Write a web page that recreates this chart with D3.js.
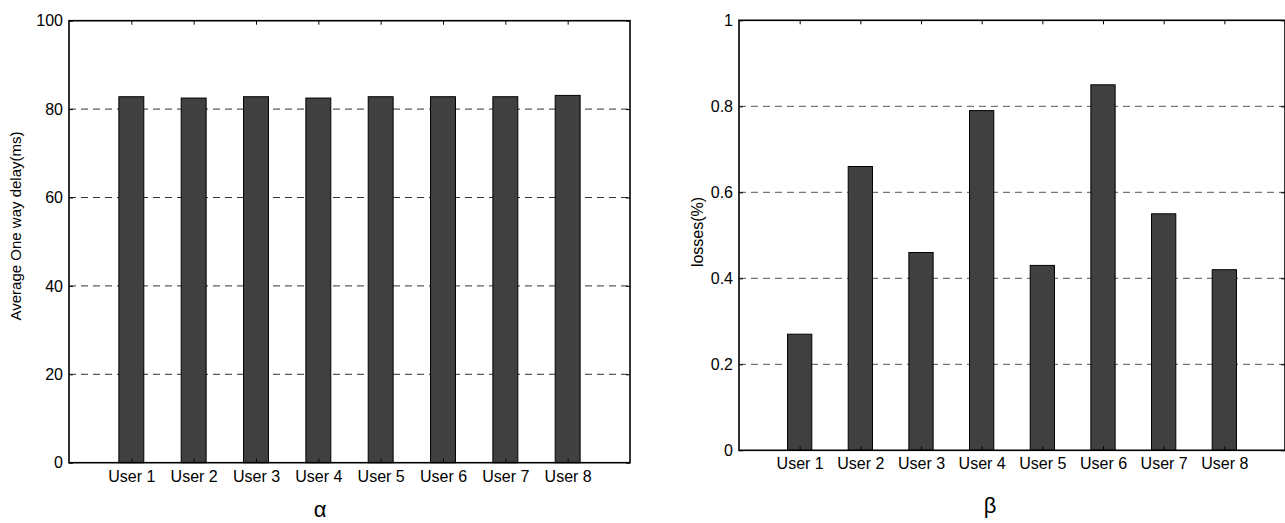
<!DOCTYPE html>
<html>
<head>
<meta charset="utf-8">
<script src="https://cdn.jsdelivr.net/npm/d3@7"></script>
<style>
  html, body { margin: 0; padding: 0; background: #fff; }
  svg { display: block; }
  text { font-family: "Liberation Sans", Arial, sans-serif; fill: #000; }
</style>
</head>
<body>
<svg id="chart" width="1285" height="523"></svg>
<script>
// ---- data ----
const categories = ["User 1", "User 2", "User 3", "User 4", "User 5", "User 6", "User 7", "User 8"];
const delayValues = [82.8, 82.5, 82.8, 82.5, 82.8, 82.8, 82.8, 83.1];
const lossValues = [0.27, 0.66, 0.46, 0.79, 0.43, 0.85, 0.55, 0.42];
const delayTicks = [0, 20, 40, 60, 80, 100];
const lossTicks = [0, 0.2, 0.4, 0.6, 0.8, 1];
const delayLabel = "Average One way delay(ms)";
const lossLabel = "losses(%)";
const delayTitle = "α";
const lossTitle = "β";

const svg = d3.select("#chart");

const panels = [
  { values: delayValues, ticks: delayTicks, yLabel: delayLabel, xLabel: delayTitle,
    left: 69, right: 630, top: 20.7, bottom: 462.7,
    yLabelX: 16, yLabelY: 226, yLabelSize: 15, xLabelX: 320, xLabelY: 517, grid: "#333" },
  { values: lossValues, ticks: lossTicks, yLabel: lossLabel, xLabel: lossTitle,
    left: 739, right: 1285, top: 20.3, bottom: 450.3,
    yLabelX: 697, yLabelY: 232, yLabelSize: 16, xLabelX: 990, xLabelY: 513, grid: "#555" }
];

panels.forEach(p => {
  const g = svg.append("g");
  const x = d3.scaleLinear().domain([0, categories.length + 1]).range([p.left, p.right]);
  const y = d3.scaleLinear().domain([p.ticks[0], p.ticks[p.ticks.length - 1]]).range([p.bottom, p.top]);
  const idx = d3.range(1, categories.length + 1);
  const bw = x(0.4) - x(0);

  // grid
  g.append("g").selectAll("line")
    .data(p.ticks.slice(1, -1))
    .join("line")
    .attr("x1", p.left).attr("x2", p.right)
    .attr("y1", d => y(d)).attr("y2", d => y(d))
    .attr("stroke", p.grid).attr("stroke-width", 1)
    .attr("stroke-dasharray", "7,5");

  // bars
  g.append("g").selectAll("rect")
    .data(p.values)
    .join("rect")
    .attr("x", (d, i) => x(i + 1) - bw / 2)
    .attr("width", bw)
    .attr("y", d => y(d))
    .attr("height", d => y(p.ticks[0]) - y(d))
    .attr("fill", "#404040")
    .attr("stroke", "#000")
    .attr("stroke-width", 1);

  // axes
  const yl = g.append("g").attr("transform", `translate(${p.left},0)`)
    .call(d3.axisLeft(y).tickValues(p.ticks).tickSize(-4).tickPadding(6).tickFormat(d3.format("~g")));
  const yr = g.append("g").attr("transform", `translate(${p.right},0)`)
    .call(d3.axisRight(y).tickValues(p.ticks).tickSize(-4).tickFormat(""));
  const xt = g.append("g").attr("transform", `translate(0,${p.top})`)
    .call(d3.axisTop(x).tickValues(idx).tickSize(-4).tickFormat(""));
  const xb = g.append("g").attr("transform", `translate(0,${p.bottom})`)
    .call(d3.axisBottom(x).tickValues(idx).tickSize(-4).tickPadding(7.5).tickFormat(d => categories[d - 1]));
  [yl, yr, xt, xb].forEach(a => {
    a.select(".domain").remove();
    a.selectAll("line").attr("stroke", "#000");
    a.selectAll("text").attr("font-size", 16).attr("font-family", '"Liberation Sans", Arial, sans-serif').attr("fill", "#000");
  });

  // frame
  g.append("rect")
    .attr("x", p.left).attr("y", p.top)
    .attr("width", p.right - p.left).attr("height", p.bottom - p.top)
    .attr("fill", "none").attr("stroke", "#000").attr("stroke-width", 1.6);

  // labels
  g.append("text")
    .attr("transform", `translate(${p.yLabelX},${p.yLabelY}) rotate(-90)`)
    .attr("text-anchor", "middle")
    .attr("dy", "0.35em")
    .attr("font-size", p.yLabelSize)
    .text(p.yLabel);
  g.append("text")
    .attr("x", p.xLabelX).attr("y", p.xLabelY)
    .attr("text-anchor", "middle")
    .attr("font-size", 22)
    .attr("font-family", '"DejaVu Sans", sans-serif')
    .style("font-weight", 200)
    .text(p.xLabel);
});
</script>
</body>
</html>
